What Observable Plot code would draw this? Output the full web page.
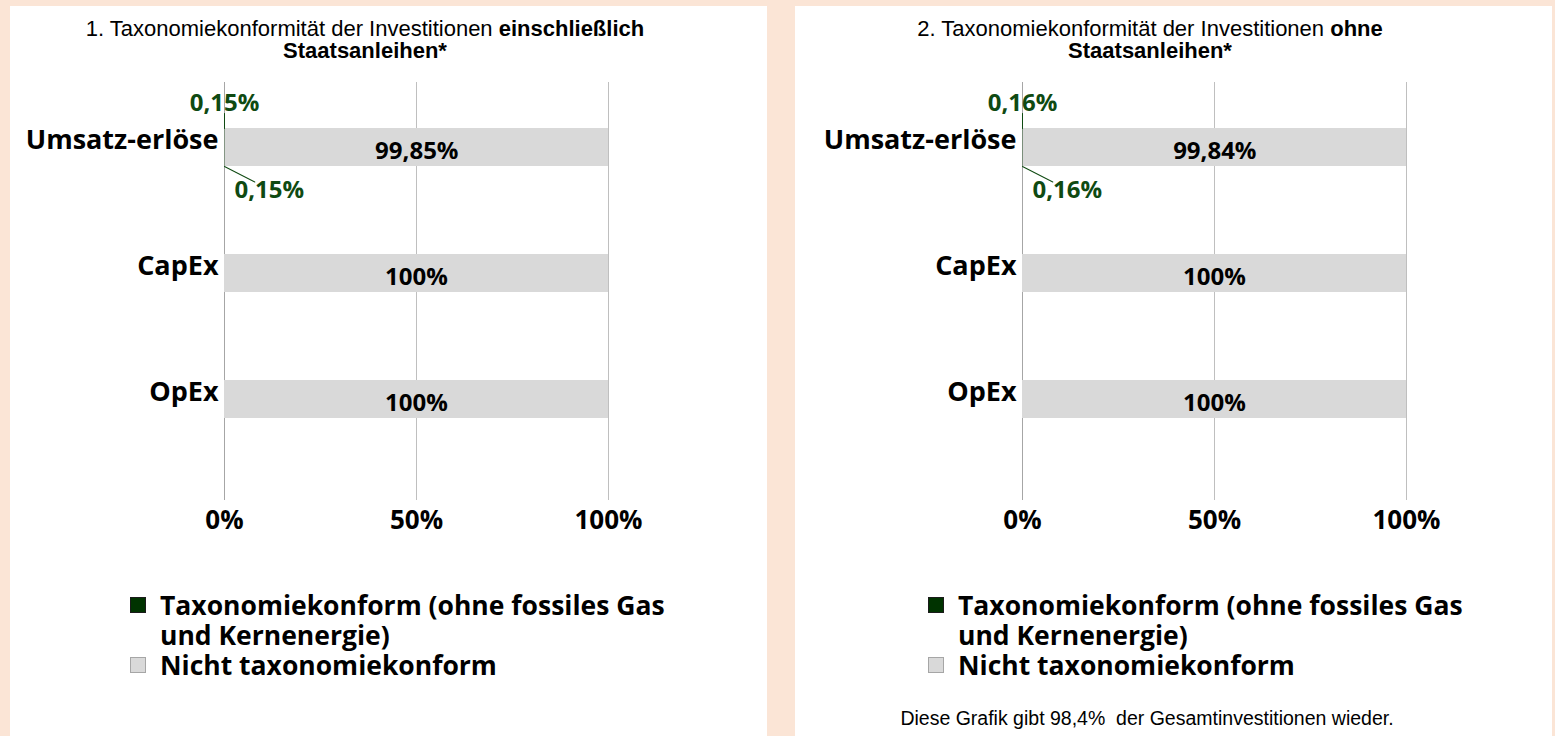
<!DOCTYPE html>
<html>
<head>
<meta charset="utf-8">
<script src="https://cdn.jsdelivr.net/npm/d3@7"></script>
<script src="https://cdn.jsdelivr.net/npm/@observablehq/plot@0.6"></script>
<style>
  html, body { margin: 0; padding: 0; }
  body { width: 1555px; height: 736px; background: #fbe5d6; position: relative; overflow: hidden; }
  .panel { position: absolute; top: 6px; width: 757px; height: 730px; background: #ffffff; }
  .title { position: absolute; top: 12px; left: 0; width: 710px; text-align: center;
           font-family: "Liberation Sans", Arial, sans-serif; font-size: 22px; line-height: 22px; color: #000; }
  .chart { position: absolute; top: 56px; left: 0; }
  .legend { position: absolute; top: 584px; left: 120px; font-family: "Open Sans", sans-serif;
            font-weight: 700; font-size: 26.5px; line-height: 30px; color: #000; white-space: nowrap; }
  .legend .item { position: relative; padding-left: 30px; }
  .legend .sw { position: absolute; left: 0; top: 7px; width: 16px; height: 16px; box-sizing: border-box; }
  .footer { position: absolute; top: 701px; left: 0; width: 704px; text-align: center; white-space: pre;
            font-family: "Liberation Sans", Arial, sans-serif; font-size: 19.5px; color: #000; }
</style>
</head>
<body>
<div class="panel" id="p1" style="left:10px"></div>
<div class="panel" id="p2" style="left:795px"></div>
<script>
// ---- data ----
const categories = ["Umsatz-erlöse", "CapEx", "OpEx"];
const aligned1 = [0.15, 0, 0];
const notAligned1 = [99.85, 100, 100];
const aligned2 = [0.16, 0, 0];
const notAligned2 = [99.84, 100, 100];
const xTicks = [0, 50, 100];
const titles1 = ["1. Taxonomiekonformität der Investitionen ", "einschließlich", "Staatsanleihen*"];
const titles2 = ["2. Taxonomiekonformität der Investitionen ", "ohne", "Staatsanleihen*"];
const legendLabels = ["Taxonomiekonform (ohne fossiles Gas", "und Kernenergie)", "Nicht taxonomiekonform"];
const footerText = "Diese Grafik gibt 98,4%  der Gesamtinvestitionen wieder.";

const GREEN = "#003300";
const GREEN_TEXT = "#0f4a12";
const GRAY = "#d9d9d9";

const fmt = v => String(v).replace(".", ",") + "%";
const leaderShape = { draw(context, l) { context.moveTo(0, 0); context.lineTo(0, -l); } };

function chart(aligned, notAligned, marginLeft) {
  const rows = categories.map((c, i) => ({ cat: c, a: aligned[i], n: notAligned[i] }));
  const small = rows.filter(d => d.a > 0);
  return Plot.plot({
    width: 757, height: 478,
    marginTop: 20, marginBottom: 40, marginLeft: marginLeft, marginRight: 757 - marginLeft - 384,
    style: { background: "transparent", fontFamily: "Open Sans, sans-serif", overflow: "visible" },
    x: { domain: [0, 100], label: null },
    y: { domain: categories, range: [22, 400], paddingInner: 0.698, paddingOuter: 0.349, label: null },
    marks: [
      Plot.ruleX(xTicks.slice(1), { stroke: "#bfbfbf", strokeWidth: 1 }),
      Plot.ruleX([0], { stroke: "#a6a6a6", strokeWidth: 1 }),
      Plot.barX(rows, { x1: 0, x2: "a", y: "cat", fill: GREEN }),
      Plot.barX(rows, { x1: "a", x2: d => d.a + d.n, y: "cat", fill: GRAY }),
      Plot.text(rows, { x: d => d.a + d.n / 2, y: "cat", text: d => fmt(d.n), dy: 4,
        fontSize: 24, fontWeight: "bold", fill: "#000" }),
      Plot.vector(small, { x: 0, y: "cat", length: 15, rotate: 0, anchor: "start", dy: -19,
        shape: leaderShape, stroke: GREEN_TEXT, strokeWidth: 1 }),
      Plot.vector(small, { x: 0, y: "cat", length: 34, rotate: 117, anchor: "start", dy: 19,
        shape: leaderShape, stroke: GREEN_TEXT, strokeWidth: 1 }),
      Plot.text(small, { x: 0, y: "cat", text: d => fmt(d.a), dy: -44,
        fontSize: 24, fontWeight: "bold", fill: GREEN_TEXT }),
      Plot.text(small, { x: 0, y: "cat", text: d => fmt(d.a), dx: 10, dy: 43, textAnchor: "start",
        fontSize: 24, fontWeight: "bold", fill: GREEN_TEXT }),
      Plot.axisX(xTicks, { tickSize: 0, tickPadding: 10, tickFormat: d => d + "%", label: null,
        fontSize: 26, fontWeight: "bold", fill: "#000" }),
      Plot.axisY({ tickSize: 0, tickPadding: 6, dy: -7, label: null,
        fontSize: 27, fontWeight: "bold", fill: "#000" })
    ]
  });
}

function buildPanel(id, titles, aligned, notAligned, marginLeft, withFooter) {
  const p = document.getElementById(id);
  const t = document.createElement("div");
  t.className = "title";
  t.innerHTML = titles[0] + "<b>" + titles[1] + "</b><br><b>" + titles[2] + "</b>";
  p.appendChild(t);
  const c = document.createElement("div");
  c.className = "chart";
  c.appendChild(chart(aligned, notAligned, marginLeft));
  p.appendChild(c);
  const lg = document.createElement("div");
  lg.className = "legend";
  lg.style.left = (marginLeft - 94) + "px";
  lg.innerHTML =
    `<div class="item"><span class="sw" style="background:${GREEN};border:1px solid #1a1a1a"></span>${legendLabels[0]}<br>${legendLabels[1]}</div>` +
    `<div class="item"><span class="sw" style="background:${GRAY};border:1px solid #a6a6a6"></span>${legendLabels[2]}</div>`;
  p.appendChild(lg);
  if (withFooter) {
    const f = document.createElement("div");
    f.className = "footer";
    f.textContent = footerText;
    p.appendChild(f);
  }
}

buildPanel("p1", titles1, aligned1, notAligned1, 214, false);
buildPanel("p2", titles2, aligned2, notAligned2, 227, true);
</script>
</body>
</html>
